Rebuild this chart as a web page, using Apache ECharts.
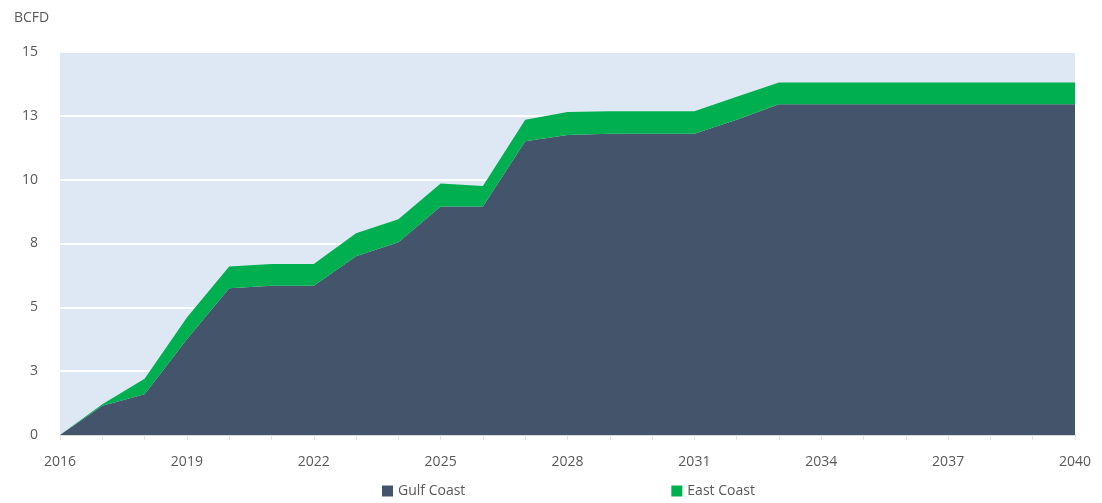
<!DOCTYPE html>
<html><head><meta charset="utf-8">
<script src="https://cdn.jsdelivr.net/npm/echarts@6/dist/echarts.min.js"></script>
<style>html,body{margin:0;padding:0;background:#fff}#c{width:1102px;height:503px}</style>
</head><body><div id="c"></div>
<script>
const years = ['2016','2017','2018','2019','2020','2021','2022','2023','2024','2025','2026','2027','2028','2029','2030','2031','2032','2033','2034','2035','2036','2037','2038','2039','2040'];
const gulfCoast = [0, 1.15, 1.6, 3.75, 5.75, 5.85, 5.85, 7.0, 7.55, 8.95, 8.95, 11.5, 11.75, 11.8, 11.8, 11.8, 12.35, 12.95, 12.95, 12.95, 12.95, 12.95, 12.95, 12.95, 12.95];
const eastCoast = [0, 0.05, 0.6, 0.85, 0.85, 0.85, 0.85, 0.9, 0.9, 0.9, 0.8, 0.85, 0.9, 0.88, 0.88, 0.88, 0.9, 0.86, 0.86, 0.86, 0.86, 0.86, 0.86, 0.86, 0.86];
const yTicks = {min: 0, max: 15, interval: 2.5};
const unitLabel = 'BCFD';

const chart = echarts.init(document.getElementById('c'));
chart.setOption({
  animation: false,
  textStyle: {fontFamily: '"Open Sans", "Noto Sans", sans-serif'},
  title: {text: unitLabel, left: 9, top: 6, textStyle: {fontSize: 14, fontWeight: 'normal', color: '#595959'}},
  grid: {left: 60, right: 27, top: 52, bottom: 68, show: true, backgroundColor: '#dee8f4', borderWidth: 0},
  legend: {
    bottom: 0, left: 377, itemGap: 206, icon: 'rect', itemWidth: 11, itemHeight: 11,
    textStyle: {fontSize: 14, color: '#595959'},
    data: ['Gulf Coast', 'East Coast']
  },
  xAxis: {
    type: 'category', data: years, boundaryGap: false,
    axisLine: {show: true, lineStyle: {color: '#d9d9d9'}},
    axisTick: {show: true, interval: 0, length: 5, lineStyle: {color: '#e3e3e3'}},
    axisLabel: {interval: 2, color: '#595959', fontSize: 14, margin: 20}
  },
  yAxis: {
    type: 'value', min: yTicks.min, max: yTicks.max, interval: yTicks.interval,
    axisLine: {show: false}, axisTick: {show: false},
    axisLabel: {color: '#595959', fontSize: 14, margin: 22, formatter: v => String(Math.round(v))},
    splitLine: {show: true, lineStyle: {color: '#ffffff', width: 2}}
  },
  series: [
    {name: 'Gulf Coast', type: 'line', stack: 'total', data: gulfCoast, showSymbol: false, symbol: 'none',
     lineStyle: {width: 0}, itemStyle: {color: '#44546a'}, areaStyle: {color: '#44546a', opacity: 1}},
    {name: 'East Coast', type: 'line', stack: 'total', data: eastCoast, showSymbol: false, symbol: 'none',
     lineStyle: {width: 0}, itemStyle: {color: '#00b050'}, areaStyle: {color: '#00b050', opacity: 1}}
  ]
});
</script></body></html>
